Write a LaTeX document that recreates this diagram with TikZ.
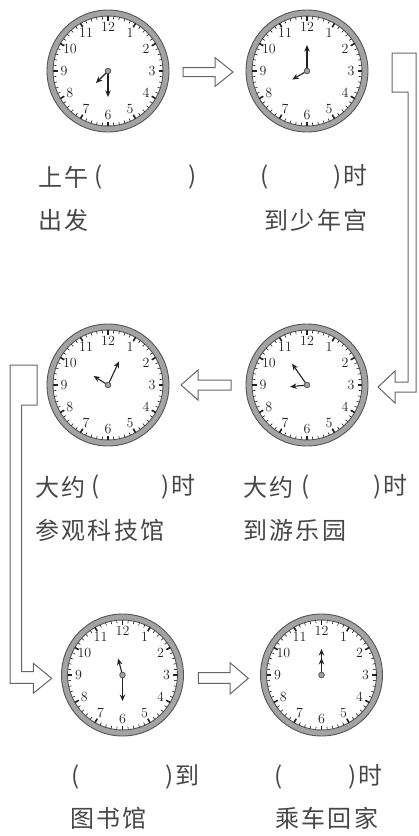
\documentclass[tikz,border=0pt]{standalone}
\usepackage{fontspec}
\newfontfamily\cjk[LetterSpace=10]{Noto Sans CJK SC}
\usetikzlibrary{arrows.meta}
\definecolor{ringline}{HTML}{555555}
\definecolor{ringfill}{HTML}{A3A3A3}
\definecolor{txt}{HTML}{474747}
\definecolor{handcol}{HTML}{222222}
\definecolor{arrline}{HTML}{666666}
\tikzset{
 lbl/.style={inner sep=0pt, text=txt, font=\cjk\fontsize{24}{24}\selectfont},
 clocknum/.style={inner sep=0pt, text=handcol, font=\fontsize{14}{14}\selectfont},
 clockring/.style={circle, draw=ringline, fill=ringfill, line width=0.9pt, minimum size=122pt, inner sep=0pt},
 clockface/.style={fill=white, draw=ringline, line width=0.9pt},
 minortick/.style={draw=handcol, line width=0.6pt},
 majortick/.style={draw=handcol, line width=1.6pt},
 clockhand/.style={draw=handcol, line width=1.1pt, -{Stealth[length=6.5pt,width=5.5pt]}},
 clockhub/.style={fill=ringfill, draw=ringline, line width=0.8pt},
 blockarrow/.style={draw=arrline, fill=white, line width=1pt, line join=miter},
}
\newcommand\myclock[5]{%
 \node[clockring] (#1) at (#2,#3) {};
 \begin{scope}[shift={(#2,#3)}]
  \path[clockface] (0,0) circle (55pt);
  \foreach \k in {0,...,59}{\draw[minortick] (\k*6:55) -- (\k*6:52);}
  \foreach \k in {0,...,11}{\draw[majortick] (\k*30:55) -- (\k*30:50.5);}
  \foreach \h in {1,...,12}{\node[clocknum] (#1n\h) at (\h*30-90:44) {\h};}
  \draw[clockhand] (0,0) -- (#5-90:26);
  \draw[clockhand] (0,0) -- (#4-90:17);
  \path[clockhub] (0,0) circle (2.8pt);
 \end{scope}
}
\begin{document}
\begin{tikzpicture}[x=1pt,y=-1pt]
\useasboundingbox (0,0) rectangle (419,836);
\myclock{c1}{108}{71}{225}{180}
\myclock{c2}{307}{71}{240}{0}
\myclock{c3}{108}{385}{302}{25}
\myclock{c4}{307}{385}{264}{325}
\myclock{c5}{122.5}{675}{345}{180}
\myclock{c6}{321.5}{675}{0}{0}
% block arrows
\draw[blockarrow] (183,67.5) -- (215,67.5) -- (215,57.5) -- (233,72) -- (215,86.5) -- (215,76.5) -- (183,76.5) -- cycle;
\draw[blockarrow] (392,53) -- (416,53) -- (416,392) -- (395,392) -- (395,403) -- (378,387) -- (395,371) -- (395,382) -- (408,382) -- (408,92) -- (392,92) -- cycle;
\draw[blockarrow] (231,380) -- (198,380) -- (198,370) -- (181,385) -- (198,400) -- (198,390) -- (231,390) -- cycle;
\draw[blockarrow] (37,365) -- (10,365) -- (10,683.3) -- (33.3,683.3) -- (33.3,693.3) -- (51.7,678.3) -- (33.3,663.3) -- (33.3,671.7) -- (21.7,671.7) -- (21.7,405) -- (37,405) -- cycle;
\draw[blockarrow] (198.3,672.7) -- (230,672.7) -- (230,662.7) -- (248.3,678.3) -- (230,694) -- (230,683.3) -- (198.3,683.3) -- cycle;
% labels row 1
\node[lbl,anchor=west] (l1a) at (38,177) {上午};
\node[lbl] (l1b) at (99,177) {(};
\node[lbl] (l1c) at (193,177) {)};
\node[lbl,anchor=west] (l1d) at (38,220) {出发};
\node[lbl] (l2a) at (265,177) {(};
\node[lbl,anchor=east] (l2b) at (368,177) {)时};
\node[lbl,anchor=east] (l2c) at (368,220) {到少年宫};
% labels row 2
\node[lbl,anchor=west] (l3a) at (35,487) {大约};
\node[lbl] (l3b) at (96,487) {(};
\node[lbl,anchor=east] (l3c) at (196,487) {)时};
\node[lbl,anchor=west] (l3d) at (35,530) {参观科技馆};
\node[lbl,anchor=west] (l4a) at (243,487) {大约};
\node[lbl] (l4b) at (306,487) {(};
\node[lbl,anchor=east] (l4c) at (408,487) {)时};
\node[lbl,anchor=west] (l4d) at (243,530) {到游乐园};
% labels row 3
\node[lbl] (l5a) at (76,777) {(};
\node[lbl,anchor=east] (l5b) at (200,777) {)到};
\node[lbl,anchor=west] (l5c) at (70,818) {图书馆};
\node[lbl] (l6a) at (279,777) {(};
\node[lbl,anchor=east] (l6b) at (383,777) {)时};
\node[lbl,anchor=west] (l6c) at (275,818) {乘车回家};
\end{tikzpicture}
\end{document}
